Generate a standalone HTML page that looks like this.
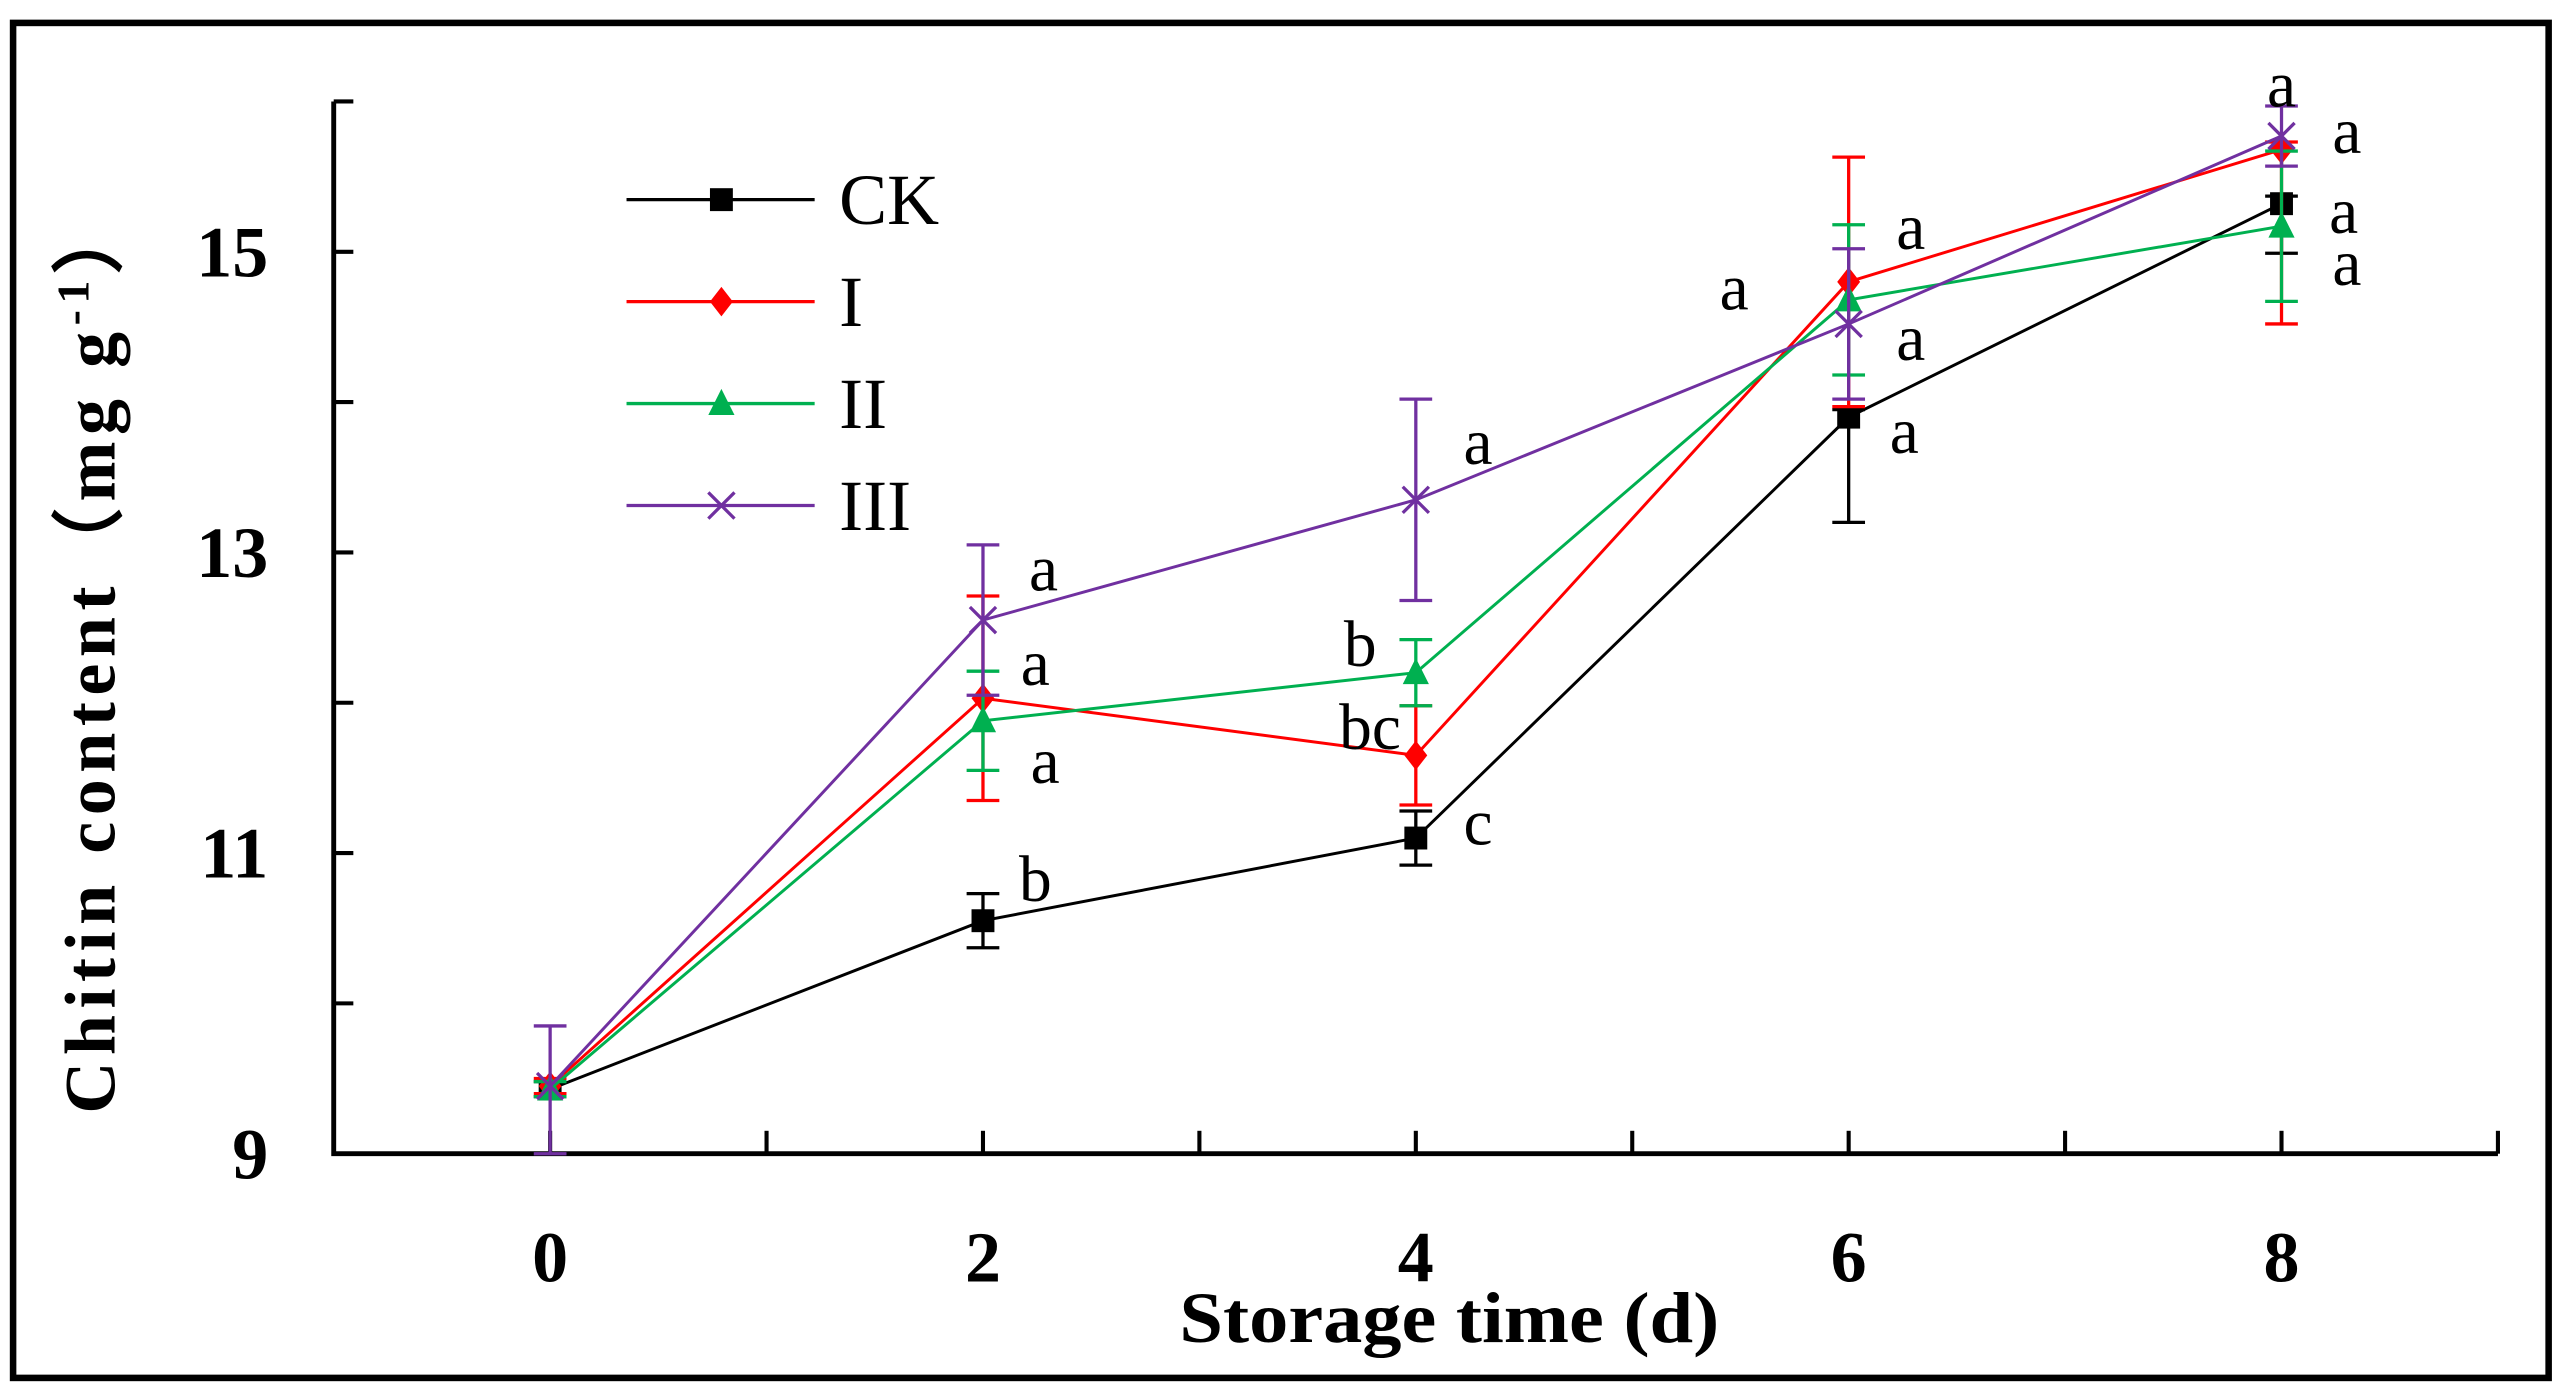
<!DOCTYPE html>
<html><head><meta charset="utf-8"><style>
html,body{margin:0;padding:0;background:#fff;}
svg{display:block;}
text{font-family:"Liberation Serif",serif;}
</style></head><body>
<svg id="chart" width="2565" height="1391" viewBox="0 0 1568 850" preserveAspectRatio="none" xmlns="http://www.w3.org/2000/svg">
<rect x="8" y="14" width="1550" height="828" fill="#fff" stroke="#000" stroke-width="4"/>
<g id="axes"></g><g id="series"></g><g id="legend"></g>
</svg>
<script>
const days=[0,2,4,6,8];
const xTicks=[0,2,4,6,8];
const yTicks=[9,11,13,15];
const seriesNames=['CK','I','II','III'];
const ckVals=[9.43,10.55,11.1,13.9,15.32];
const ckErrHi=[0.05,0.18,0.18,0.05,0.05];
const ckErrLo=[0.05,0.18,0.18,0.7,0.33];
const ckLetters=['','b','c','a','a'];
const iVals=[9.45,12.03,11.65,14.8,15.68];
const iErrHi=[0.05,0.68,0.33,0.83,0.05];
const iErrLo=[0.05,0.68,0.33,0.83,1.16];
const iLetters=['','a','bc','a','a'];
const iiVals=[9.43,11.88,12.2,14.68,15.17];
const iiErrHi=[0.05,0.33,0.22,0.5,0.5];
const iiErrLo=[0.05,0.33,0.22,0.5,0.5];
const iiLetters=['','a','b','a','a'];
const iiiVals=[9.45,12.55,13.35,14.52,15.77];
const iiiErrHi=[0.4,0.5,0.67,0.5,0.2];
const iiiErrLo=[0.45,0.5,0.67,0.5,0.2];
const iiiLetters=['','a','a','a','a'];

const L=204,R=1527,T=62,B=705;
const xs=d=>L+(d+1)/10*(R-L);
const ys=v=>B-(v-9)/7*(B-T);
const NS='http://www.w3.org/2000/svg';
function mk(tag,attrs,parent){const e=document.createElementNS(NS,tag);for(const k in attrs)e.setAttribute(k,attrs[k]);parent.appendChild(e);return e;}
const ax=document.getElementById('axes');
let e=mk('path',{d:`M${L},${T} L${L},${B} L${R},${B}`,fill:'none',stroke:'#000','stroke-width':3},ax);


for(let d=-1;d<=9;d++){e=mk('line',{x1:xs(d),x2:xs(d),y1:B,y2:B-14,stroke:'#000','stroke-width':2.5},ax);

}
for(let v=9;v<=16;v++){e=mk('line',{x1:L,x2:L+12,y1:ys(v),y2:ys(v),stroke:'#000','stroke-width':2.5},ax);

}
xTicks.forEach(t=>{e=mk('text',{x:xs(t),y:B+78,'text-anchor':'middle','font-size':44,'font-weight':'bold'},ax);e.textContent=t;

});
yTicks.forEach(t=>{e=mk('text',{x:164,y:ys(t)+15,'text-anchor':'end','font-size':44,'font-weight':'bold'},ax);e.textContent=t;

});
e=mk('text',{x:886,y:820,'text-anchor':'middle','font-size':44,'font-weight':'bold',textLength:330,lengthAdjust:'spacingAndGlyphs'},ax);e.textContent='Storage time (d)';


e=mk('text',{x:0,y:0,'text-anchor':'middle','font-size':44,'font-weight':'bold','letter-spacing':4,transform:'translate(70,400) rotate(-90)'},ax);
e.innerHTML='Chitin content（mg g<tspan font-size="28" dy="-16">-1</tspan><tspan dy="16">）</tspan>';



const allVals=[ckVals,iVals,iiVals,iiiVals];
const allHi=[ckErrHi,iErrHi,iiErrHi,iiiErrHi];
const allLo=[ckErrLo,iErrLo,iiErrLo,iiiErrLo];
const allLet=[ckLetters,iLetters,iiLetters,iiiLetters];
const colors=['#000','#ff0000','#00b050','#7030a0'];
const letterOff=[[[0,0],[32,-24],[38,-8],[34,10],[38,6]],
 [[0,0],[32,-20],[-28,-16],[38,-32],[40,-10]],
 [[0,0],[38,26],[-34,-16],[-70,-6],[40,24]],
 [[0,0],[37,-30],[38,-34],[38,10],[0,-30]]];
function marker(k,x,y,g){const c=colors[k];let m;
 if(k===0)m=mk('rect',{x:x-7,y:y-7,width:14,height:14,fill:c},g);
 else if(k===1)m=mk('polygon',{points:`${x},${y-9} ${x+7},${y} ${x},${y+9} ${x-7},${y}`,fill:c},g);
 else if(k===2)m=mk('polygon',{points:`${x},${y-9} ${x+8},${y+7} ${x-8},${y+7}`,fill:c},g);
 else m=mk('path',{d:`M${x-8},${y-8}L${x+8},${y+8}M${x+8},${y-8}L${x-8},${y+8}`,stroke:c,'stroke-width':2},g);
 return m;}
const sg=document.getElementById('series');
allVals.forEach((vals,k)=>{
 const g=mk('g',{},sg);
 
 
 const c=colors[k];
 vals.forEach((v,i)=>{const x=xs(days[i]);const hi=ys(v+allHi[k][i]),lo=ys(v-allLo[k][i]);
  e=mk('path',{d:`M${x},${hi}L${x},${lo}M${x-10},${hi}L${x+10},${hi}M${x-10},${lo}L${x+10},${lo}`,stroke:c,'stroke-width':2,fill:'none'},g);
  
  });
 e=mk('polyline',{points:vals.map((v,i)=>xs(days[i])+','+ys(v)).join(' '),fill:'none',stroke:c,'stroke-width':1.8},g);
 
 
 vals.forEach((v,i)=>{e=marker(k,xs(days[i]),ys(v),g);
  
  
  if(allLet[k][i]){const t=mk('text',{x:xs(days[i])+letterOff[k][i][0],y:ys(v)+letterOff[k][i][1]+12,'text-anchor':'middle','font-size':40},g);t.textContent=allLet[k][i];
   
   }});
});
const lg=document.getElementById('legend');
seriesNames.forEach((n,k)=>{const y=122+k*62.3;
 const g=mk('g',{},lg);
 
 
 mk('line',{x1:383,x2:498,y1:y,y2:y,stroke:colors[k],'stroke-width':2},g);
 marker(k,441,y,g);
 const t=mk('text',{x:513,y:y+15,'font-size':44},g);t.textContent=n;});
</script>
</body></html>
